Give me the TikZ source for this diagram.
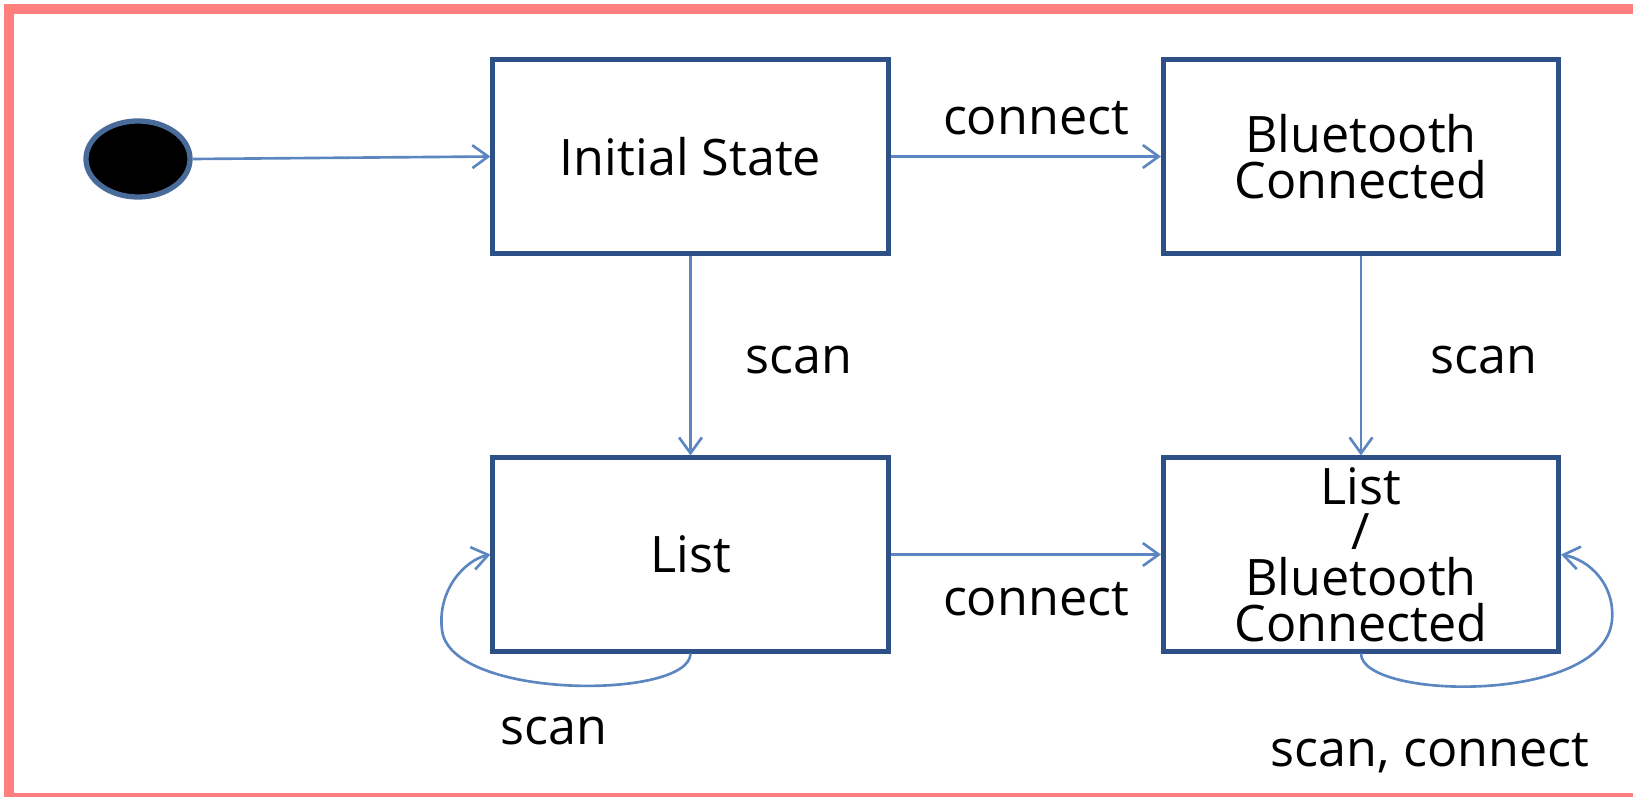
\documentclass[tikz,border=0pt]{standalone}
\usepackage{fontspec}
\setmainfont{Open Sans}
\usetikzlibrary{shapes.geometric,arrows.meta}
\definecolor{boxblue}{HTML}{2D5086}
\definecolor{lineblue}{HTML}{5B86C0}
\definecolor{framered}{HTML}{FF7F7F}

\begin{document}
\begin{tikzpicture}[x=0.01cm,y=-0.01cm,
  state/.style={draw=boxblue,line width=1.4pt,minimum width=3.95cm,minimum height=1.93cm,
    align=center,inner sep=0pt,font=\fontsize{14.3}{13}\selectfont},
  trans/.style={draw=lineblue,line width=0.75pt,-{Straight Barb[length=4.5pt,width=6.5pt]}},
  lbl/.style={font=\fontsize{14.3}{13}\selectfont}]
\useasboundingbox (0,0) rectangle (1633,797);
% frame
\fill[framered] (4,4) rectangle (1633,14);
\fill[framered] (4,4) rectangle (14,797);
\fill[framered] (4,793) rectangle (1633,797);
% states
\node[ellipse,draw=lineblue!80!black,line width=1.5pt,fill=black,minimum width=1.04cm,minimum height=0.76cm,inner sep=0pt] (start) at (138,159) {};
\node[state] (init) at (690.5,156.5) {Initial State};
\node[state] (bt) at (1361,156.5) {Bluetooth\\Connected};
\node[state] (list) at (690.5,554.5) {List};
\node[state] (lbt) at (1361,554.5) {List\\/\\Bluetooth\\Connected};
% transitions
\draw[trans] (start.east) -- (init.west);
\draw[trans] (init.east) -- (bt.west);
\draw[trans] (init.south) -- (list.north);
\draw[trans] (bt.south) -- (lbt.north);
\draw[trans] (list.east) -- (lbt.west);
\draw[trans] (list.south) .. controls (690,700) and (450,700) .. (442,630) .. controls (437,590) and (465,560) .. (list.west);
\draw[trans] (lbt.south) .. controls (1361,700) and (1605,705) .. (1612,620) .. controls (1615,585) and (1590,560) .. (lbt.east);
% labels
\node[lbl] (l1) at (1036,118) {connect};
\node[lbl] (l2) at (799,360) {scan};
\node[lbl] (l3) at (1484,360) {scan};
\node[lbl] (l4) at (1036,599) {connect};
\node[lbl] (l5) at (554,731) {scan};
\node[lbl] (l6) at (1430,753) {scan, connect};
\end{tikzpicture}
\end{document}
